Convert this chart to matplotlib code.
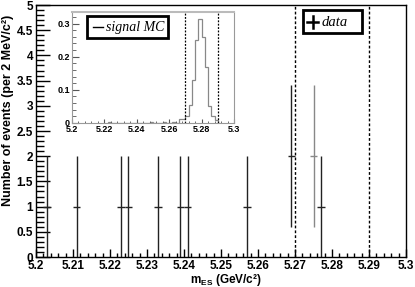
import matplotlib
matplotlib.use("Agg")
import matplotlib.pyplot as plt
import numpy as np
from matplotlib.patches import Rectangle
from matplotlib.lines import Line2D
from matplotlib.ticker import MultipleLocator

plt.rcParams['mathtext.fontset'] = 'custom'
plt.rcParams['mathtext.rm'] = 'Liberation Sans:bold'
plt.rcParams['mathtext.default'] = 'rm'

# ---- data ----
data_x = [5.203, 5.211, 5.223, 5.225, 5.233, 5.239, 5.241, 5.257, 5.269, 5.275, 5.277]
data_y = [1, 1, 1, 1, 1, 1, 1, 1, 2, 2, 1]
data_colors = ['#222222'] * 8 + ['#222222', '#888888', '#222222']
bin_half = 0.001

mc_edges = [5.222, 5.224, 5.226, 5.248, 5.250, 5.252, 5.256, 5.258, 5.260, 5.262, 5.264,
            5.266, 5.268, 5.270, 5.272, 5.274, 5.276, 5.278, 5.280, 5.282, 5.284,
            5.286, 5.288, 5.290]
mc_vals = [0.003, 0.0, 0.0, 0.003, 0.0, 0.0, 0.003, 0.0, 0.0, 0.003,
           0.0, 0.013, 0.012, 0.02, 0.055, 0.13, 0.25, 0.315, 0.26, 0.17,
           0.05, 0.022, 0.008]

cut_lines = [5.27, 5.29]

W, H = 415, 287
fig = plt.figure(figsize=(W / 100, H / 100), dpi=100)
fig.patch.set_facecolor('white')

bold = dict(family='Liberation Sans', weight='bold')

# ---- main axes ----
ax = fig.add_axes([36 / W, (H - 257) / H, 370 / W, 252 / H])
ax.set_xlim(5.2, 5.3)
ax.set_ylim(0, 5)
for sp in ax.spines.values():
    sp.set_linewidth(1.0)
    sp.set_color('black')

for x in cut_lines:
    ax.axvline(x, color='black', linestyle=(0, (2, 1.5)), linewidth=1.0)

for x, y, c in zip(data_x, data_y, data_colors):
    ax.errorbar([x], [y], yerr=[np.sqrt(y)], xerr=[bin_half], fmt='none',
                ecolor=c, elinewidth=1.0, capsize=0)

ax.xaxis.set_minor_locator(MultipleLocator(0.002))
ax.yaxis.set_minor_locator(MultipleLocator(0.1))
ax.tick_params(axis='both', which='both', direction='in', top=False, right=False)
ax.tick_params(axis='y', which='major', length=10, width=1, pad=2)
ax.tick_params(axis='y', which='minor', length=6, width=1)
ax.tick_params(axis='x', which='major', length=6, width=1, pad=2)
ax.tick_params(axis='x', which='minor', length=3, width=1)
xt = np.round(np.arange(5.2, 5.3001, 0.01), 2)
ax.set_xticks(xt)
ax.set_xticklabels(['5.2'] + ['%.2f' % v for v in xt[1:-1]] + ['5.3'],
                   fontsize=8.5, **bold)
yt = np.arange(0, 5.01, 0.5)
ax.set_yticks(yt)
ax.set_yticklabels(['%g' % v for v in yt], fontsize=8.5, **bold)

fig.text(8 / W, (H - 110) / H, 'Number of events (per 2 MeV/c²)', fontsize=9,
         rotation=90, ha='center', va='center', **bold)
fig.text(226 / W, (H - 279.5) / H, r'$\mathrm{m_{ES}}$ (GeV/c²)', fontsize=8.5,
         ha='center', va='center', **bold)

# data legend box
fig.add_artist(Rectangle((303 / W, (H - 33) / H), 59 / W, 23 / H, transform=fig.transFigure,
                         facecolor='white', edgecolor='black', linewidth=2))
fig.add_artist(Line2D([307 / W, 318 / W], [(H - 22) / H] * 2, color='black', lw=1.8,
                      transform=fig.transFigure))
fig.add_artist(Line2D([312.5 / W] * 2, [(H - 16) / H, (H - 28) / H], color='black', lw=1.8,
                      transform=fig.transFigure))
fig.text(322 / W, (H - 22) / H, 'data', fontsize=10.5, style='italic',
         family='Liberation Serif', va='center', ha='left')

# ---- inset ----
ins = fig.add_axes([72 / W, (H - 123) / H, 162 / W, 111 / H])
ins.set_xlim(5.2, 5.3)
ins.set_ylim(0, 0.335)
for sp in ins.spines.values():
    sp.set_color('#999999')
    sp.set_linewidth(0.8)
ins.spines['top'].set_color('#bbbbbb')
ins.spines['top'].set_linewidth(1.5)
ins.stairs(mc_vals, mc_edges, color='#888888', linewidth=0.9)
for x in cut_lines:
    ins.axvline(x, color='black', linestyle=(0, (1.5, 1.2)), linewidth=0.9)
ins.xaxis.set_minor_locator(MultipleLocator(0.004))
ins.yaxis.set_minor_locator(MultipleLocator(0.02))
ins.tick_params(axis='both', which='both', direction='in', top=False, right=False,
                color='#555555')
ins.tick_params(axis='y', which='major', length=5, pad=1.5)
ins.tick_params(axis='y', which='minor', length=3)
ins.tick_params(axis='x', which='major', length=3, pad=1.5)
ins.tick_params(axis='x', which='minor', length=1.5)
ins.set_xticks([5.2, 5.22, 5.24, 5.26, 5.28, 5.3])
ins.set_xticklabels(['5.2', '5.22', '5.24', '5.26', '5.28', '5.3'], fontsize=6.5, **bold)
ins.set_yticks([0, 0.1, 0.2, 0.3])
ins.set_yticklabels(['0', '0.1', '0.2', '0.3'], fontsize=6.5, **bold)

# MC legend box
fig.add_artist(Rectangle((87 / W, (H - 38) / H), 81 / W, 22 / H, transform=fig.transFigure,
                         facecolor='white', edgecolor='black', linewidth=2))
fig.add_artist(Line2D([93 / W, 103 / W], [(H - 27) / H] * 2, color='black', lw=1.0,
                      transform=fig.transFigure))
fig.text(106 / W, (H - 27) / H, 'signal MC', fontsize=10, style='italic',
         family='Liberation Serif', va='center', ha='left')

fig.savefig('out.png', dpi=100)
